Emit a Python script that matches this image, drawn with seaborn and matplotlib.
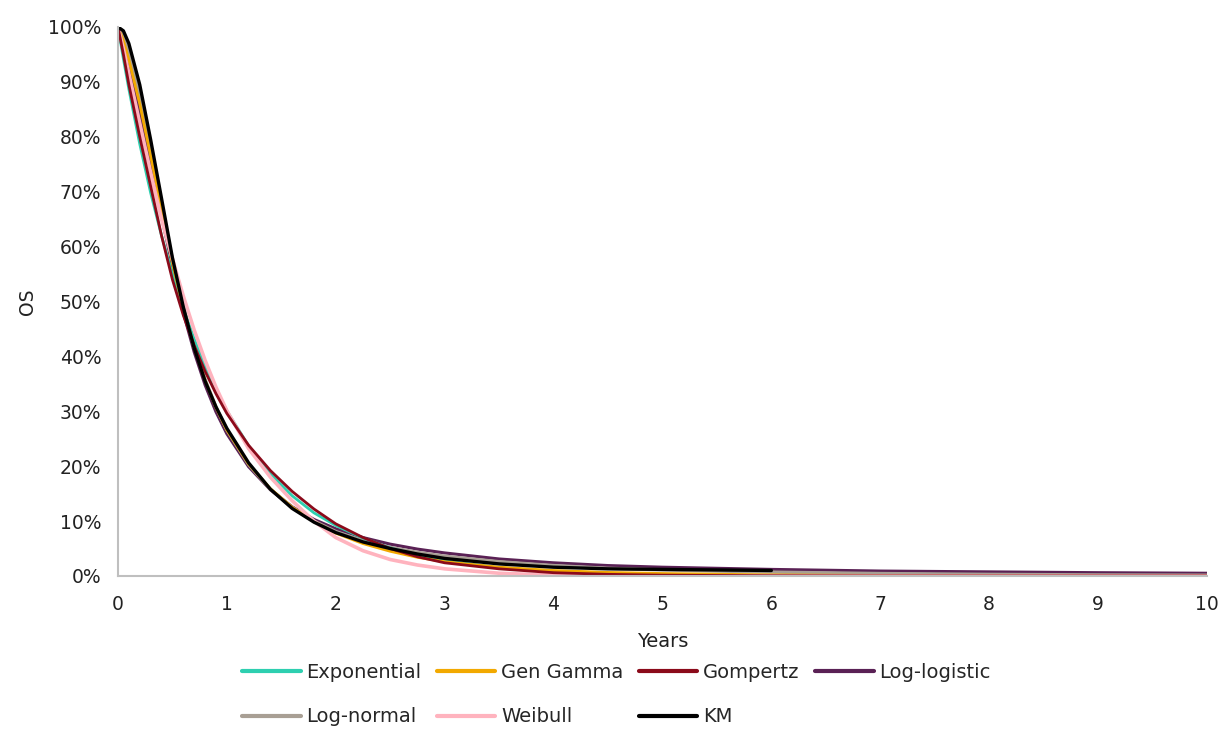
import numpy as np
import pandas as pd
import matplotlib
matplotlib.use("Agg")
import matplotlib.pyplot as plt
import seaborn as sns
from matplotlib.lines import Line2D
from matplotlib.ticker import PercentFormatter

years = [0, 0.05, 0.1, 0.2, 0.3, 0.4, 0.5, 0.6, 0.7, 0.8, 0.9, 1.0, 1.2, 1.4, 1.6, 1.8,
         2.0, 2.25, 2.5, 2.75, 3.0, 3.5, 4.0, 4.5, 5.0, 6.0, 7.0, 8.0, 9.0, 10.0]

exponential = [100, 94.2, 88.7, 78.7, 69.8, 62, 55, 48.7, 43.2, 38.3, 34, 30.1, 23.7, 18.6, 14.6, 11.5,
               9.2, 6.9, 5.1, 3.8, 2.8, 1.5, 0.8, 0.45, 0.25, 0.08, 0.03, 0.01, 0.0, 0.0]
gen_gamma = [100, 97.5, 94, 86, 76.5, 66.8, 57, 48.8, 41.6, 35.6, 30.7, 26.6, 20.4, 15.9, 12.5, 9.9,
             7.8, 5.9, 4.5, 3.4, 2.6, 1.6, 1.0, 0.65, 0.45, 0.2, 0.1, 0.05, 0.02, 0.01]
gompertz = [100, 95, 89.5, 80, 71, 62, 54, 47.5, 42, 37.3, 33.2, 29.6, 23.8, 19.2, 15.4, 12.2,
            9.5, 7.0, 5.0, 3.5, 2.4, 1.3, 0.6, 0.3, 0.15, 0.03, 0.0, 0.0, 0.0, 0.0]
log_logistic = [100, 97, 93, 84.5, 75, 65.5, 56.5, 48, 40.8, 34.8, 29.9, 25.9, 19.9, 15.7, 12.6, 10.3,
                8.6, 7.0, 5.8, 4.9, 4.2, 3.1, 2.4, 1.9, 1.6, 1.2, 0.9, 0.75, 0.6, 0.5]
log_normal = [100, 98.5, 95.5, 87.5, 77.5, 67.5, 57.5, 49, 41.8, 35.8, 30.8, 26.6, 20.3, 15.8, 12.5, 10,
              8.1, 6.4, 5.2, 4.3, 3.6, 2.6, 1.9, 1.4, 1.1, 0.7, 0.45, 0.3, 0.2, 0.15]
weibull = [100, 96, 91.5, 82.5, 73.5, 65, 57.8, 51, 44.8, 39.3, 34.4, 30.1, 23.2, 18.0, 13.7, 10,
           7.0, 4.6, 3.0, 2.0, 1.3, 0.5, 0.15, 0.05, 0.02, 0.0, 0.0, 0.0, 0.0, 0.0]
km = [100, 99.3, 97, 89.5, 79.5, 68.8, 58, 49, 41.5, 35.5, 30.8, 26.9, 20.6, 15.8, 12.3, 9.8,
      7.9, 6.2, 5.0, 4.0, 3.2, 2.2, 1.6, 1.3, 1.2, 1.0, None, None, None, None]

series_names = ["Exponential", "Gen Gamma", "Gompertz", "Log-logistic", "Log-normal", "Weibull", "KM"]
series_values = [exponential, gen_gamma, gompertz, log_logistic, log_normal, weibull, km]
colors = ["#2ECFB0", "#F2A900", "#8B0A1A", "#5A2155", "#A89F94", "#FFB3BE", "#000000"]
widths = [2.0, 2.0, 2.0, 2.2, 2.4, 2.6, 2.4]

x_ticks = list(range(0, 11))
y_ticks = list(range(0, 101, 10))

rows = []
for name, vals in zip(series_names, series_values):
    for t, v in zip(years, vals):
        rows.append({"Years": t, "OS": np.nan if v is None else v, "Model": name})
df = pd.DataFrame(rows)

sns.set_style("white")
plt.rcParams["font.family"] = ["DejaVu Sans"]

fig = plt.figure(figsize=(12.21, 7.29), dpi=100)
ax = fig.add_axes([0.0966, 0.2099, 0.8919, 0.7531])

draw_order = ["Log-logistic", "Log-normal", "Exponential", "Gen Gamma", "Weibull", "Gompertz", "KM"]
for name in draw_order:
    i = series_names.index(name)
    sub = df[df["Model"] == name].dropna()
    sns.lineplot(data=sub, x="Years", y="OS", color=colors[i], linewidth=widths[i], ax=ax,
                 estimator=None, sort=True)

ax.set_xlim(0, 10)
ax.set_ylim(0, 100)
ax.set_xticks(x_ticks)
ax.set_yticks(y_ticks)
ax.yaxis.set_major_formatter(PercentFormatter(decimals=0))
ax.tick_params(axis="x", labelsize=13.5, colors="#222222", length=0, pad=14)
ax.tick_params(axis="y", labelsize=13.5, colors="#222222", length=0, pad=12)
ax.set_xlabel("Years", fontsize=14, color="#222222", labelpad=13)
ax.set_ylabel("OS", fontsize=13.5, color="#222222", labelpad=8)
for s in ["top", "right"]:
    ax.spines[s].set_visible(False)
for s in ["left", "bottom"]:
    ax.spines[s].set_color("#BFBFBF")
    ax.spines[s].set_linewidth(1.5)

order = ["Exponential", "Log-normal", "Gen Gamma", "Weibull", "Gompertz", "KM", "Log-logistic"]
handles = [Line2D([0], [0], color=colors[series_names.index(n)], linewidth=3) for n in order]
fig.legend(handles, order, loc="upper left", bbox_to_anchor=(0.192, 0.101), ncol=4,
           frameon=False, fontsize=14, handlelength=3.0, handletextpad=0.3,
           columnspacing=0.8, labelspacing=1.3, borderaxespad=0)

fig.savefig("out.png", dpi=100, facecolor="white")
